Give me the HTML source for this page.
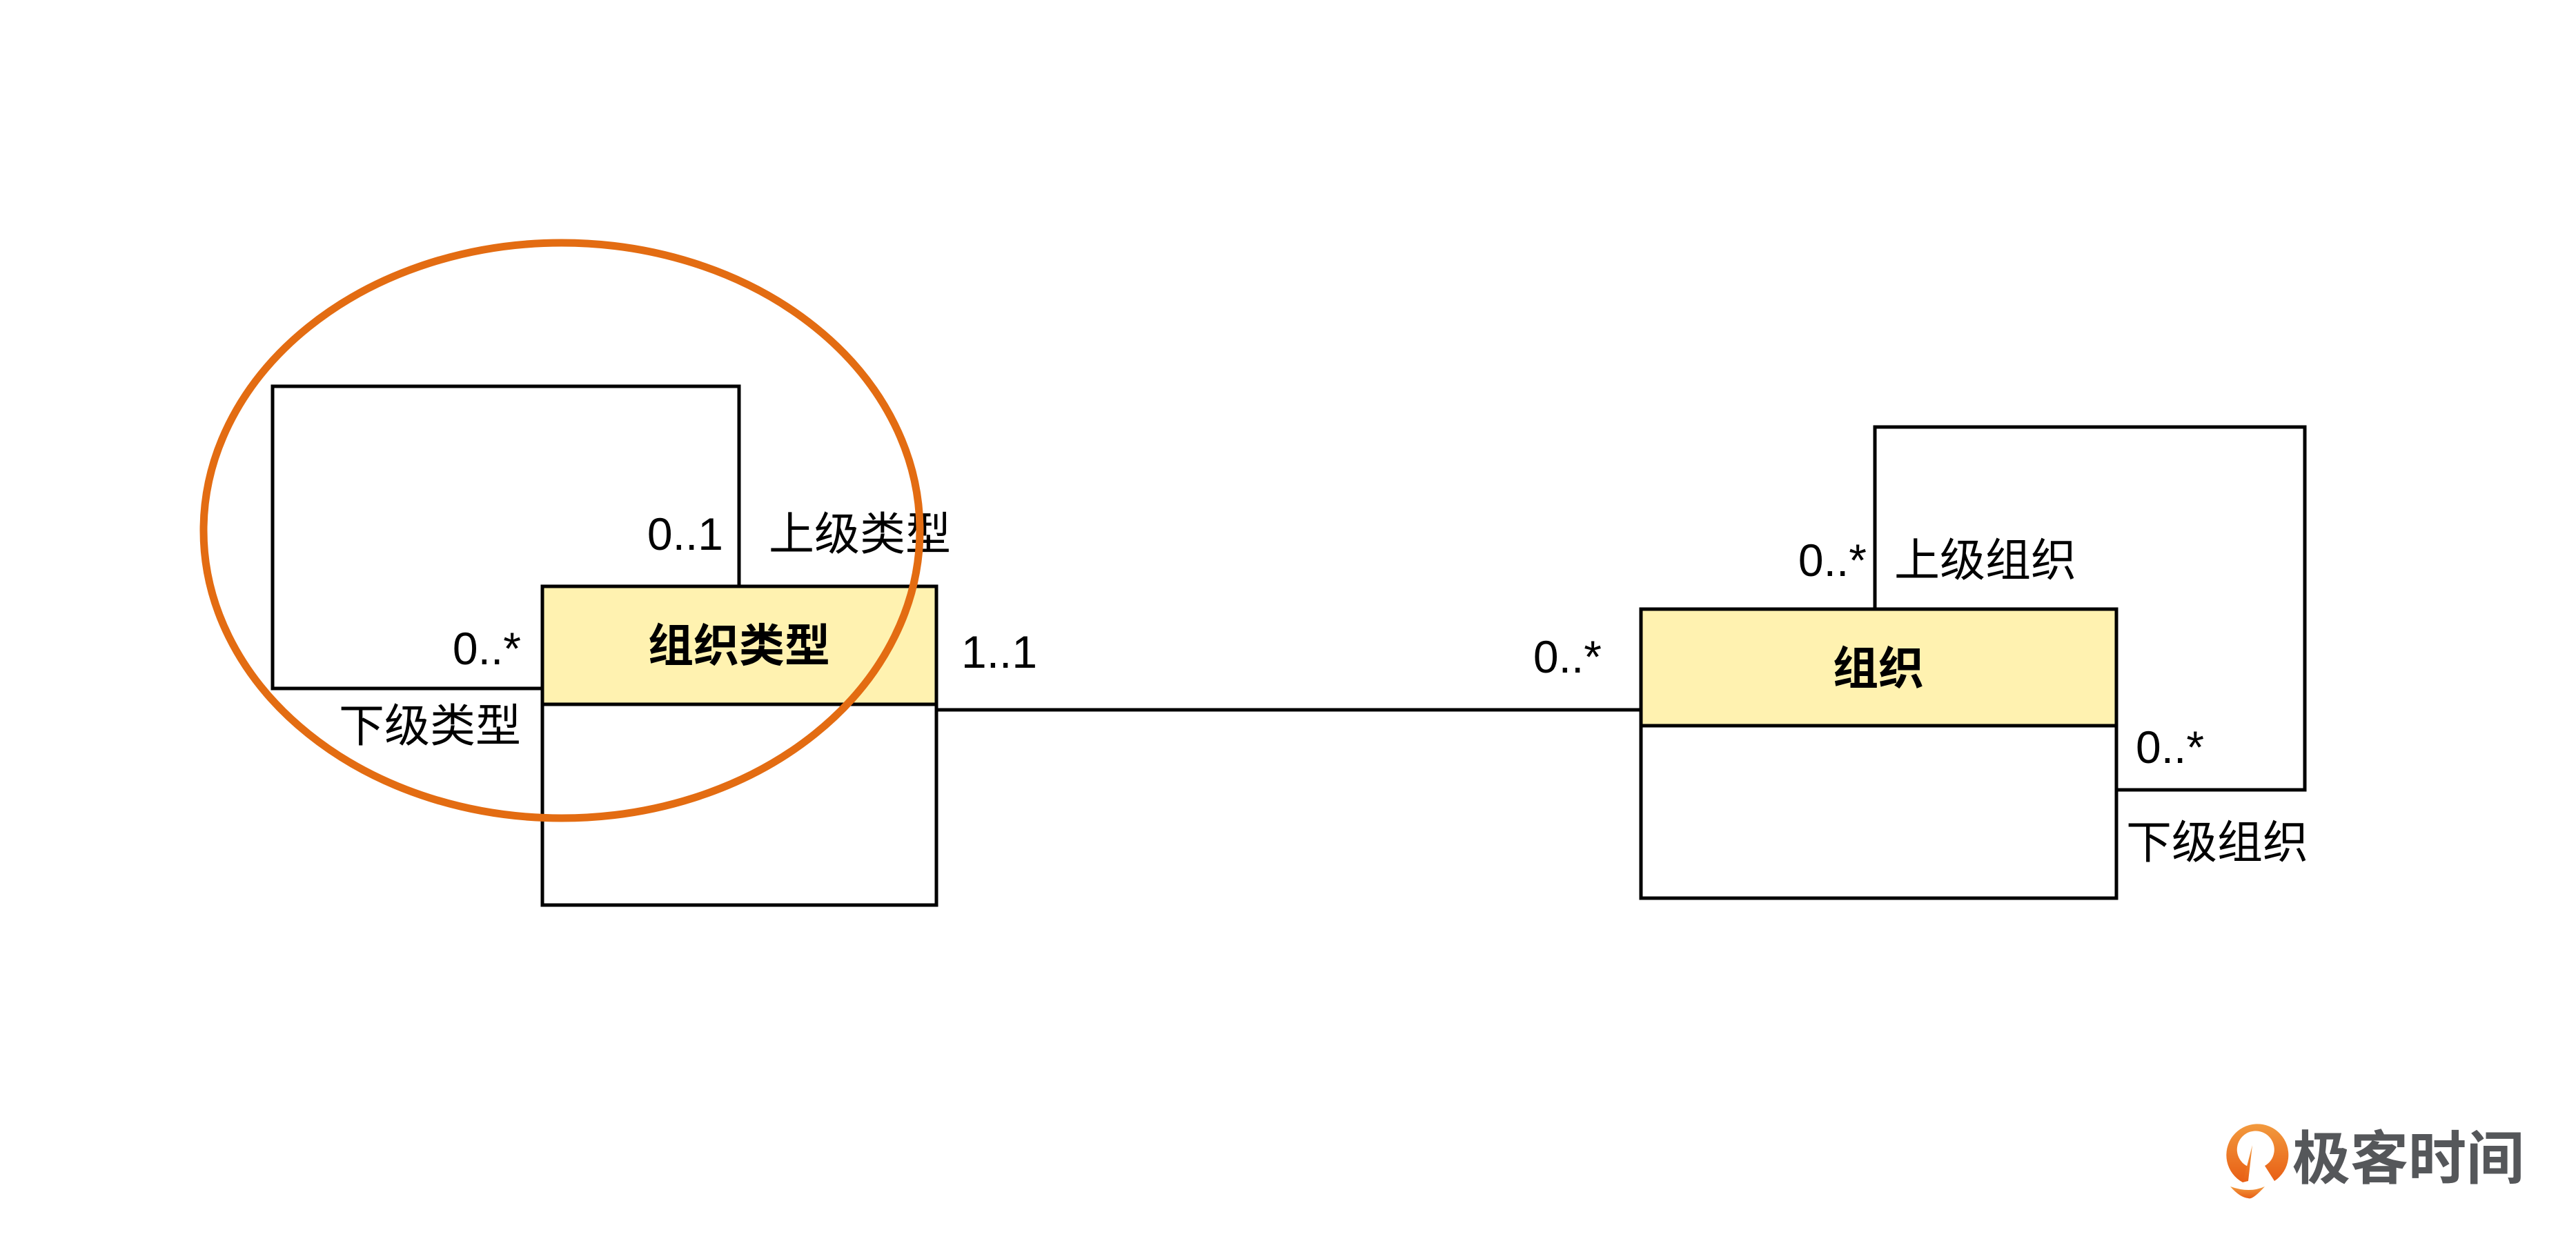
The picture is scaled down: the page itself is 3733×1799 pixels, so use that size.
<!DOCTYPE html>
<html><head><meta charset="utf-8"><style>
html,body{margin:0;padding:0;background:#fff;}
body{width:3733px;height:1794px;overflow:hidden;}
text{font-family:"Liberation Sans","Noto Sans CJK SC",sans-serif;fill:#000;}
</style></head><body>
<svg width="3733" height="1794" viewBox="0 0 3733 1794" xmlns="http://www.w3.org/2000/svg">
<g fill="none" stroke="#000" stroke-width="5">
<polyline points="786,998 395,998 395,560 1071,560 1071,850"/>
<polyline points="2717,883 2717,619 3340,619 3340,1145 3067,1145"/>
<line x1="1357" y1="1029" x2="2378" y2="1029"/>
</g>
<rect x="786" y="850" width="571" height="171" fill="#FFF2B0" stroke="#000" stroke-width="5"/>
<rect x="786" y="1021" width="571" height="291" fill="#fff" stroke="#000" stroke-width="5"/>
<rect x="2378" y="883" width="689" height="169" fill="#FFF2B0" stroke="#000" stroke-width="5"/>
<rect x="2378" y="1052" width="689" height="250" fill="#fff" stroke="#000" stroke-width="5"/>
<g font-size="66" dominant-baseline="central">
<text x="1048" y="774" text-anchor="end">0..1</text>
<text x="1114" y="774">上级类型</text>
<text x="755" y="940" text-anchor="end">0..*</text>
<text x="755" y="1052" text-anchor="end">下级类型</text>
<text x="1393" y="945">1..1</text>
<text x="2321" y="952" text-anchor="end">0..*</text>
<text x="2705" y="812" text-anchor="end">0..*</text>
<text x="2745" y="812">上级组织</text>
<text x="3095" y="1083">0..*</text>
<text x="3081" y="1221">下级组织</text>
<text x="1071" y="936" text-anchor="middle" font-weight="bold">组织类型</text>
<text x="2722" y="969" text-anchor="middle" font-weight="bold">组织</text>
</g>
<ellipse cx="814" cy="769" rx="519" ry="417" fill="none" stroke="#E36C12" stroke-width="11"/>
<defs><linearGradient id="g" x1="0" y1="0" x2="0" y2="1"><stop offset="0" stop-color="#F29A3E"/><stop offset="1" stop-color="#E85E14"/></linearGradient></defs>
<path d="M3250,1714 A45,45 0 1 1 3296,1712 L3282,1690 A27,27 0 1 0 3260,1692 Z" fill="url(#g)"/>
<path d="M3264,1660 L3258,1712 L3250,1714 Z" fill="url(#g)"/>
<path d="M3232,1720 Q3260,1730 3282,1720 Q3264,1740 3258,1737 Q3246,1736 3232,1720 Z" fill="url(#g)"/>
<text x="3322" y="1680" font-size="84" font-weight="bold" dominant-baseline="central" style="fill:#55575a">极客时间</text>
</svg>
</body></html>
